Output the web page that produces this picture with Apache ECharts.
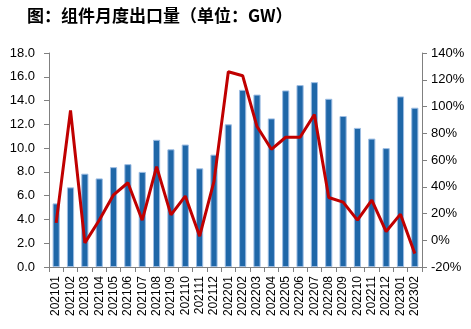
<!DOCTYPE html>
<html><head><meta charset="utf-8">
<script src="https://cdn.jsdelivr.net/npm/echarts@6/dist/echarts.min.js"></script>
<style>html,body{margin:0;padding:0;background:#fff}#c{width:471px;height:329px}</style>
</head><body><div id="c"></div>
<script>
const categories = ['202101','202102','202103','202104','202105','202106','202107','202108','202109','202110','202111','202112','202201','202202','202203','202204','202205','202206','202207','202208','202209','202210','202211','202212','202301','202302'];
const exportGW = [5.35,6.7,7.85,7.45,8.4,8.65,8.0,10.7,9.9,10.3,8.3,9.45,12.0,14.9,14.5,12.5,14.85,15.3,15.55,14.15,12.7,11.7,10.8,10.0,14.35,13.4];
const yoyPct = [13,97,-2,15,34,43,15,55,19,33,3,44,126,123,85,68,77,77,94,32,28.5,15,30,6.5,19.5,-10];
const chart = echarts.init(document.getElementById('c'));
const lbl = {color:'#000', fontFamily:'Liberation Sans, Arial', fontSize:13};
chart.setOption({
  animation:false,
  title:{text:'图：组件月度出口量（单位：GW）', left:22, top:2,
    textStyle:{fontSize:17, fontWeight:'bold', color:'#000', fontFamily:'Noto Sans CJK SC'}},
  grid:{left:49, right:49, top:53, bottom:62},
  xAxis:{type:'category', data:categories,
    axisLine:{lineStyle:{color:'#808080'}},
    axisTick:{show:true, alignWithLabel:false, lineStyle:{color:'#808080'}},
    axisLabel:{rotate:90, interval:0, color:'#000', fontFamily:'Liberation Sans, Arial', fontSize:12, margin:9}},
  yAxis:[
    {type:'value', min:0, max:18, interval:2, splitLine:{show:false},
     axisLine:{show:true, lineStyle:{color:'#808080'}}, axisTick:{show:true, lineStyle:{color:'#808080'}},
     axisLabel:Object.assign({formatter:v=>v.toFixed(1), margin:14}, lbl)},
    {type:'value', min:-20, max:140, interval:20, splitLine:{show:false},
     axisLine:{show:true, lineStyle:{color:'#808080'}}, axisTick:{show:true, lineStyle:{color:'#808080'}},
     axisLabel:Object.assign({formatter:v=>v+'%', margin:9}, lbl)}
  ],
  series:[
    {type:'bar', data:exportGW, yAxisIndex:0, barWidth:'50%',
     itemStyle:{color:'#1F67A8', borderColor:'#9DBDE3', borderWidth:1}},
    {type:'line', data:yoyPct, yAxisIndex:1, symbol:'none',
     lineStyle:{color:'#C00000', width:3}, itemStyle:{color:'#C00000'}}
  ]
});
</script></body></html>
